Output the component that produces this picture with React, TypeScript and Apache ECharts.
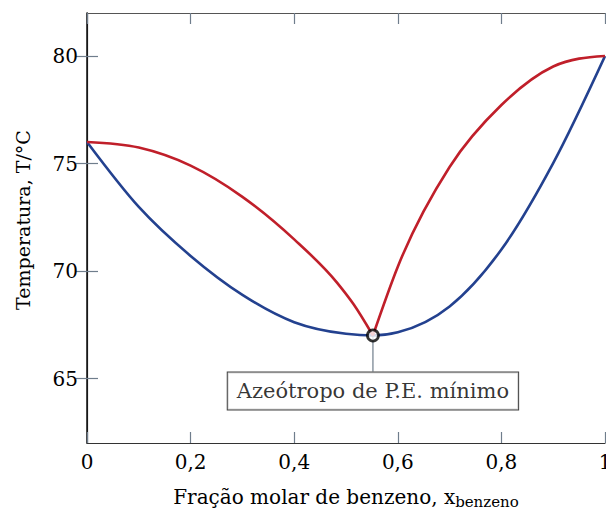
import React, { useEffect, useRef } from "react";
import * as echarts from "echarts";

const liquidX = [0, 0.1, 0.2, 0.3, 0.4, 0.5, 0.552, 0.6, 0.7, 0.8, 0.9, 1];
const liquidT = [76, 72.98, 70.7, 68.89, 67.62, 67.08, 67.0, 67.15, 68.35, 71.0, 75.02, 80];
const vaporLeftX = [0, 0.1, 0.2, 0.3, 0.4, 0.483, 0.515, 0.552];
const vaporLeftT = [76, 75.74, 74.9, 73.45, 71.47, 69.45, 68.44, 67.0];
const vaporRightX = [0.552, 0.6, 0.7, 0.8, 0.9, 1];
const vaporRightT = [67.0, 70.2, 74.84, 77.72, 79.51, 80];
const azeotrope = [0.552, 67.0];
const labelAnchor = [0.552, 64.42];
const connectorEnd = 65.33;
const yTicks = [65, 70, 75, 80];
const annotation = "Azeótropo de P.E. mínimo";

const FONT = "DejaVu Serif";
const TICK = "#6f7d8c";
const TEXT = "#000";
const BLUE = "#23418f";
const RED = "#c01f2a";

// cubic Hermite spline through pixel points (weighted three-point tangents, flat at extrema)
function splinePath(p: number[][]): string {
  const n = p.length;
  const h: number[] = [], d: number[] = [], m: number[] = new Array(n).fill(0);
  for (let i = 0; i < n - 1; i++) {
    h.push(p[i + 1][0] - p[i][0]);
    d.push((p[i + 1][1] - p[i][1]) / h[i]);
  }
  for (let i = 1; i < n - 1; i++) {
    if (d[i - 1] * d[i] <= 0) { m[i] = 0; continue; }
    m[i] = (d[i - 1] * h[i] + d[i] * h[i - 1]) / (h[i - 1] + h[i]);
  }
  m[0] = n > 2 ? (3 * d[0] - m[1]) / 2 : d[0];
  m[n - 1] = n > 2 ? (3 * d[n - 2] - m[n - 2]) / 2 : d[n - 2];
  let s = `M${p[0][0]},${p[0][1]}`;
  for (let i = 0; i < n - 1; i++) {
    const t = h[i] / 3;
    s += `C${p[i][0] + t},${p[i][1] + m[i] * t},${p[i + 1][0] - t},${p[i + 1][1] - m[i + 1] * t},${p[i + 1][0]},${p[i + 1][1]}`;
  }
  return s;
}

function curveSeries(xs: number[], ys: number[], color: string, z: number) {
  const data = xs.map((x, i) => [x, ys[i]]);
  return {
    type: "custom",
    coordinateSystem: "cartesian2d",
    data,
    encode: { x: 0, y: 1 },
    z,
    renderItem: (params: any, api: any) => {
      if (params.dataIndex !== 0) return null;
      const pts = data.map((v) => api.coord(v));
      return {
        type: "path",
        shape: { pathData: splinePath(pts) },
        style: { fill: "none", stroke: color, lineWidth: 2.6 },
      };
    },
  };
}

export default function App() {
  const ref = useRef<HTMLDivElement>(null);
  useEffect(() => {
    document.body.style.margin = "0";
    const chart = echarts.init(ref.current!, null, { renderer: "svg" });
    chart.setOption({
      animation: false,
      grid: { left: 87, right: 1, top: 13, bottom: 68, outerBoundsMode: "none", containLabel: false },
      xAxis: [
        {
          type: "value", min: 0, max: 1, interval: 0.2,
          axisLine: { show: true, lineStyle: { color: "#333", width: 1.2 } },
          axisTick: { inside: true, length: 11, lineStyle: { color: TICK, width: 1.2 } },
          axisLabel: { fontFamily: FONT, fontSize: 20, color: TEXT, margin: 9,
            formatter: (v: number) => String(Math.round(v * 10) / 10).replace(".", ",") },
          splitLine: { show: false },
          name: "Fração molar de benzeno, x{sub|benzeno}",
          nameLocation: "middle", nameGap: 42,
          nameTextStyle: { fontFamily: FONT, fontSize: 20, color: TEXT,
            rich: { sub: { fontFamily: FONT, fontSize: 15, color: TEXT, padding: [9, 0, 0, 0] } } },
        },
        {
          type: "value", min: 0, max: 1, interval: 0.2, position: "top",
          axisLine: { show: true, lineStyle: { color: "#555", width: 1.2 } },
          axisTick: { inside: true, length: 11, lineStyle: { color: TICK, width: 1.2 } },
          axisLabel: { show: false }, splitLine: { show: false },
        },
      ],
      yAxis: [
        {
          type: "value", min: 62, max: 82,
          axisLine: { show: true, lineStyle: { color: "#333", width: 1.2 } },
          axisTick: { inside: true, length: 11, customValues: yTicks, lineStyle: { color: TICK, width: 1.2 } },
          axisLabel: { fontFamily: FONT, fontSize: 20, color: TEXT, margin: 9, customValues: yTicks },
          splitLine: { show: false },
          name: "Temperatura, T/°C", nameLocation: "middle", nameGap: 55,
          nameTextStyle: { fontFamily: FONT, fontSize: 19, color: TEXT, padding: [0, 0, 0, 16] },
        },
        {
          type: "value", min: 62, max: 82, position: "right",
          axisLine: { show: true, lineStyle: { color: "#111", width: 1.5 } },
          axisTick: { inside: true, length: 11, customValues: yTicks, lineStyle: { color: TICK, width: 1.2 } },
          axisLabel: { show: false }, splitLine: { show: false },
        },
      ],
      series: [
        {
          type: "line", data: [azeotrope, [azeotrope[0], connectorEnd]], symbol: "none",
          lineStyle: { color: TICK, width: 1.2 }, z: 1,
        },
        curveSeries(liquidX, liquidT, BLUE, 2),
        curveSeries(vaporLeftX, vaporLeftT, RED, 3),
        curveSeries(vaporRightX, vaporRightT, RED, 3),
        {
          type: "scatter", data: [azeotrope], symbol: "circle", symbolSize: 11,
          itemStyle: { color: "#fff", borderColor: "#000", borderWidth: 2.8 }, z: 5,
        },
        {
          type: "scatter", data: [labelAnchor], symbolSize: 0, z: 6,
          label: {
            show: true, position: "inside", formatter: annotation,
            fontFamily: FONT, fontSize: 21, color: TEXT,
            backgroundColor: "#fff", borderColor: "#111", borderWidth: 1,
            padding: [8, 9, 8, 9],
          },
        },
      ],
    });
    return () => chart.dispose();
  }, []);
  return <div ref={ref} style={{ position: "absolute", left: 0, top: 0, width: 606, height: 511 }} />;
}
